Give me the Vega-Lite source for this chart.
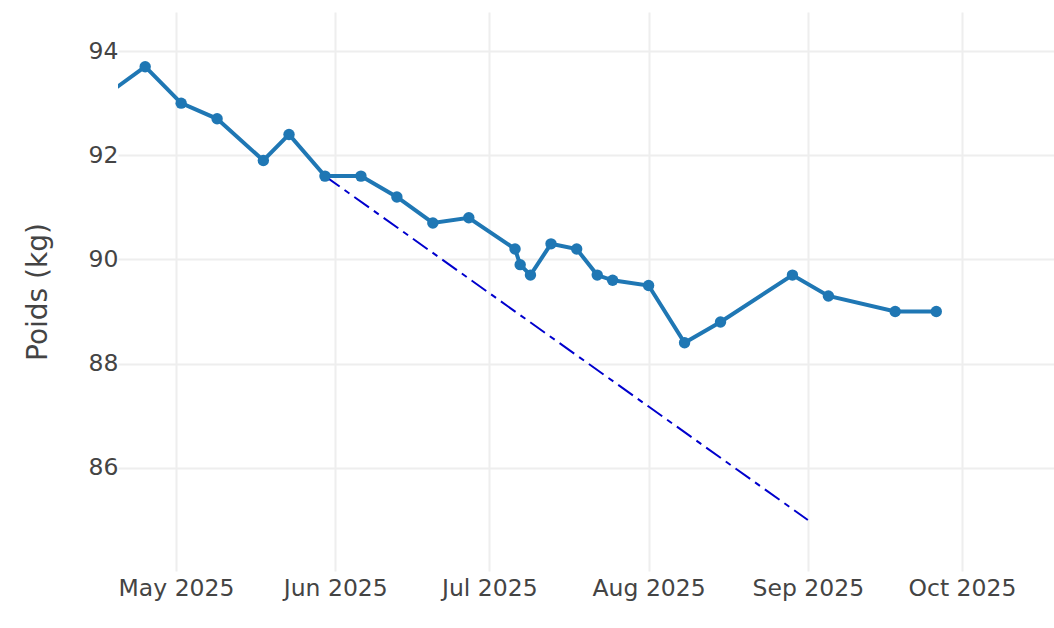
{
  "$schema": "https://vega.github.io/schema/vega-lite/v6.json",
  "width": 936,
  "height": 559,
  "autosize": {"type": "none"},
  "padding": {"left": 118, "top": 12, "right": 0, "bottom": 57},
  "background": "white",
  "config": {
    "view": {"stroke": null},
    "font": "DejaVu Sans",
    "axis": {
      "domain": false,
      "ticks": false,
      "gridColor": "#eeeeee",
      "gridWidth": 2,
      "labelColor": "#444444",
      "labelFont": "DejaVu Sans",
      "labelFontSize": 23.5,
      "titleColor": "#444444",
      "titleFont": "DejaVu Sans",
      "titleFontSize": 28,
      "titleFontWeight": "normal"
    }
  },
  "datasets": {
    "poids": [
      {"date": "2025-04-18", "poids": 93.2},
      {"date": "2025-04-25", "poids": 93.7},
      {"date": "2025-05-02", "poids": 93.0},
      {"date": "2025-05-09", "poids": 92.7},
      {"date": "2025-05-18", "poids": 91.9},
      {"date": "2025-05-23", "poids": 92.4},
      {"date": "2025-05-30", "poids": 91.6},
      {"date": "2025-06-06", "poids": 91.6},
      {"date": "2025-06-13", "poids": 91.2},
      {"date": "2025-06-20", "poids": 90.7},
      {"date": "2025-06-27", "poids": 90.8},
      {"date": "2025-07-06", "poids": 90.2},
      {"date": "2025-07-07", "poids": 89.9},
      {"date": "2025-07-09", "poids": 89.7},
      {"date": "2025-07-13", "poids": 90.3},
      {"date": "2025-07-18", "poids": 90.2},
      {"date": "2025-07-22", "poids": 89.7},
      {"date": "2025-07-25", "poids": 89.6},
      {"date": "2025-08-01", "poids": 89.5},
      {"date": "2025-08-08", "poids": 88.4},
      {"date": "2025-08-15", "poids": 88.8},
      {"date": "2025-08-29", "poids": 89.7},
      {"date": "2025-09-05", "poids": 89.3},
      {"date": "2025-09-18", "poids": 89.0},
      {"date": "2025-09-26", "poids": 89.0}
    ],
    "objectif": [
      {"date": "2025-05-30", "poids": 91.6},
      {"date": "2025-09-01", "poids": 85.0}
    ]
  },
  "encoding": {
    "x": {
      "field": "date",
      "type": "temporal",
      "scale": {"type": "utc", "domain": ["2025-04-19T17:00:00Z", "2025-10-18T22:00:00Z"]},
      "axis": {
        "title": null,
        "labelExpr": "utcFormat(datum.value, '%b %Y')",
        "tickCount": {"interval": "month", "step": 1},
        "labelPadding": 5,
        "labelFlush": false,
        "labelOverlap": false
      }
    },
    "y": {
      "field": "poids",
      "type": "quantitative",
      "scale": {"domain": [84.02, 94.75], "nice": false, "zero": false},
      "axis": {
        "title": "Poids (kg)",
        "values": [86, 88, 90, 92, 94],
        "labelPadding": 0,
        "titlePadding": 36
      }
    }
  },
  "layer": [
    {
      "data": {"name": "objectif"},
      "mark": {"type": "line", "color": "mediumblue", "strokeWidth": 2, "strokeDash": [18, 6, 6, 6], "clip": true}
    },
    {
      "data": {"name": "poids"},
      "mark": {"type": "line", "color": "#1f77b4", "strokeWidth": 4, "clip": true}
    },
    {
      "data": {"name": "poids"},
      "mark": {"type": "point", "filled": true, "opacity": 1, "color": "#1f77b4", "size": 130, "clip": true}
    }
  ]
}
